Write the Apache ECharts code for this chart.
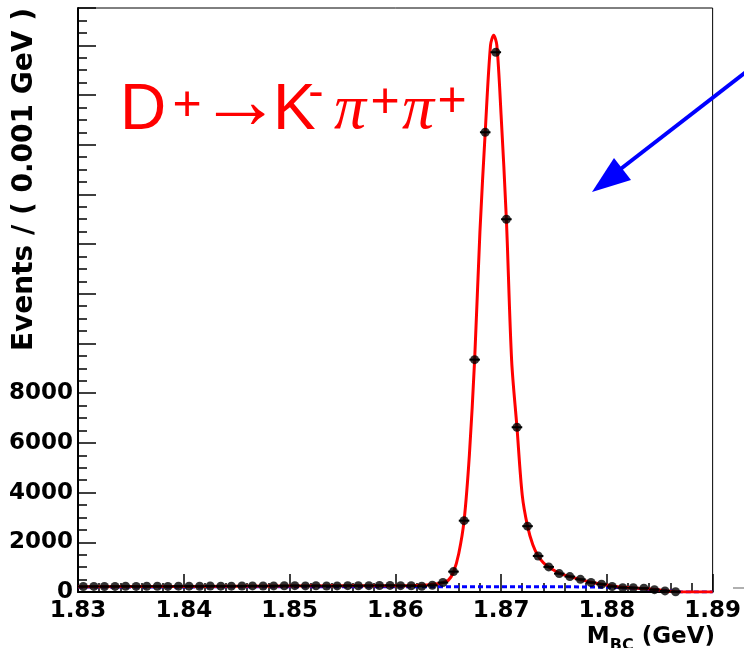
<!DOCTYPE html>
<html>
<head>
<meta charset="utf-8">
<script src="https://cdn.jsdelivr.net/npm/echarts@6/dist/echarts.min.js"></script>
<style>
  html, body { margin: 0; padding: 0; background: #fff; }
  #chart { width: 744px; height: 648px; }
</style>
</head>
<body>
<div id="chart"></div>
<script>
// bin centers (GeV) and events per 0.001 GeV
const binMass = [
  1.8305, 1.8315, 1.8325, 1.8335, 1.8345, 1.8355, 1.8365, 1.8375, 1.8385, 1.8395,
  1.8405, 1.8415, 1.8425, 1.8435, 1.8445, 1.8455, 1.8465, 1.8475, 1.8485, 1.8495,
  1.8505, 1.8515, 1.8525, 1.8535, 1.8545, 1.8555, 1.8565, 1.8575, 1.8585, 1.8595,
  1.8605, 1.8615, 1.8625, 1.8635, 1.8645, 1.8655, 1.8665, 1.8675, 1.8685, 1.8695,
  1.8705, 1.8715, 1.8725, 1.8735, 1.8745, 1.8755, 1.8765, 1.8775, 1.8785, 1.8795,
  1.8805, 1.8815, 1.8825, 1.8835, 1.8845, 1.8855, 1.8865
];
const binEvents = [
  220, 225, 220, 225, 230, 225, 230, 230, 225, 235,
  235, 230, 240, 235, 235, 240, 245, 240, 245, 250,
  255, 245, 250, 240, 245, 255, 250, 255, 260, 265,
  255, 250, 230, 270, 380, 820, 2870, 9350, 18500, 21720,
  15000, 6630, 2650, 1450, 1010, 740, 620, 510, 380, 310,
  220, 175, 170, 150, 95, 45, 10
];

// total fit (red)
const fitMass = [
  1.830, 1.840, 1.850, 1.860, 1.862, 1.863, 1.864, 1.8645, 1.865, 1.8655,
  1.866, 1.8665, 1.867, 1.8675, 1.868, 1.8685, 1.869, 1.8693, 1.8696, 1.870,
  1.8705, 1.871, 1.8715, 1.872, 1.8725, 1.873, 1.8735, 1.874, 1.8745, 1.8755,
  1.8765, 1.8775, 1.8785, 1.8795, 1.8805, 1.8815, 1.8825, 1.8835, 1.8845, 1.8855,
  1.8865, 1.887, 1.890
];
const fitEvents = [
  215, 225, 240, 255, 265, 285, 330, 380, 470, 800,
  1550, 2870, 5500, 9350, 14500, 18500, 22000, 22400, 22000, 19200,
  15000, 9300, 6630, 3900, 2650, 1900, 1450, 1180, 1010, 760,
  620, 500, 390, 310, 240, 190, 160, 140, 100, 55,
  15, 0, 0
];

// background component (blue dashed)
const bkgMass = [1.830, 1.850, 1.870, 1.878, 1.881, 1.883, 1.885, 1.886, 1.8866, 1.887, 1.890];
const bkgEvents = [200, 210, 215, 205, 180, 140, 80, 45, 10, 0, 0];

const xTicks = [1.83, 1.84, 1.85, 1.86, 1.87, 1.88, 1.89];
const yLabelMax = 8000;

const tickFont = 'DejaVu Sans';

const chart = echarts.init(document.getElementById('chart'), null, { renderer: 'canvas' });

const option = {
  animation: false,
  backgroundColor: '#fff',
  grid: {
    left: 78, right: 29, top: 8, bottom: 56,
    show: true, borderColor: '#000', borderWidth: 1, backgroundColor: 'transparent'
  },
  xAxis: {
    type: 'value',
    min: xTicks[0],
    max: xTicks[xTicks.length - 1],
    interval: 0.01,
    axisLine: { lineStyle: { color: '#000', width: 2 } },
    axisTick: { inside: true, length: 18, lineStyle: { color: '#000', width: 1.5 } },
    minorTick: { show: true, splitNumber: 5, length: 9, lineStyle: { color: '#000', width: 1.5 } },
    splitLine: { show: false },
    axisLabel: {
      color: '#000', fontFamily: tickFont, fontWeight: 'bold', fontSize: 23, margin: 8,
      formatter: (v) => v.toFixed(2)
    }
  },
  yAxis: {
    type: 'value',
    min: 0,
    max: 23500,
    interval: 2000,
    axisLine: { lineStyle: { color: '#000', width: 2 } },
    axisTick: { inside: true, length: 18, lineStyle: { color: '#000', width: 1.5 } },
    minorTick: { show: true, splitNumber: 4, length: 9, lineStyle: { color: '#000', width: 1.5 } },
    splitLine: { show: false },
    axisLabel: {
      color: '#000', fontFamily: tickFont, fontWeight: 'bold', fontSize: 23, margin: 5,
      showMaxLabel: false,
      formatter: (v) => (v <= yLabelMax ? String(v) : '')
    }
  },
  series: [
    {
      name: 'background',
      type: 'line',
      data: bkgMass.map((m, i) => [m, bkgEvents[i]]),
      showSymbol: false,
      lineStyle: { color: '#0000ff', width: 3, type: [5, 3] },
      z: 2
    },
    {
      name: 'fit',
      type: 'line',
      data: fitMass.map((m, i) => [m, fitEvents[i]]),
      showSymbol: false,
      smooth: 0.3,
      lineStyle: { color: '#ff0000', width: 3 },
      z: 3
    },
    {
      name: 'binwidth',
      type: 'custom',
      data: binMass.map((m, i) => [m, binEvents[i]]),
      renderItem: (params, api) => {
        const a = api.coord([api.value(0) - 0.0005, api.value(1)]);
        const b = api.coord([api.value(0) + 0.0005, api.value(1)]);
        return {
          type: 'line',
          shape: { x1: a[0], y1: a[1], x2: b[0], y2: b[1] },
          style: { stroke: '#000', lineWidth: 2 }
        };
      },
      z: 4
    },
    {
      name: 'data',
      type: 'scatter',
      data: binMass.map((m, i) => [m, binEvents[i]]),
      symbol: 'circle',
      symbolSize: 9,
      itemStyle: { color: '#000' },
      z: 5
    }
  ],
  graphic: [
    // y title
    {
      type: 'text', x: 25, y: 8, rotation: Math.PI / 2,
      style: {
        text: 'Events / ( 0.001 GeV )', fill: '#000',
        font: 'bold 28px "DejaVu Sans"', align: 'right', verticalAlign: 'middle'
      }
    },
    // x title
    {
      type: 'text', x: 715, y: 626,
      style: {
        text: '{m|M}{s|BC}{m| (GeV)}', align: 'right', verticalAlign: 'top',
        rich: {
          m: { fontFamily: 'DejaVu Sans', fontWeight: 'bold', fontSize: 23, lineHeight: 28, fill: '#000', verticalAlign: 'top' },
          s: { fontFamily: 'DejaVu Sans', fontWeight: 'bold', fontSize: 16, lineHeight: 12, fill: '#000', verticalAlign: 'bottom' }
        }
      }
    },
    // decay label
    { type: 'text', x: 120, y: 111, style: { text: 'D', fill: '#ff0000', font: '64px "Liberation Sans"', align: 'left', verticalAlign: 'middle' } },
    { type: 'text', x: 187, y: 106, style: { text: '+', fill: '#ff0000', font: '50px "Liberation Sans"', align: 'center', verticalAlign: 'middle' } },
    { type: 'text', x: 240, y: 105, style: { text: '→', fill: '#ff0000', font: '82px "Liberation Sans"', align: 'center', verticalAlign: 'middle' } },
    { type: 'text', x: 273, y: 111, style: { text: 'K', fill: '#ff0000', font: '64px "Liberation Sans"', align: 'left', verticalAlign: 'middle' } },
    { type: 'text', x: 316, y: 94, style: { text: '-', fill: '#ff0000', font: '46px "Liberation Sans"', align: 'center', verticalAlign: 'middle' } },
    { type: 'text', x: 350, y: 111, style: { text: 'π', fill: '#ff0000', font: 'italic 64px "Liberation Serif"', align: 'center', verticalAlign: 'middle' } },
    { type: 'text', x: 385, y: 103, style: { text: '+', fill: '#ff0000', font: '50px "Liberation Sans"', align: 'center', verticalAlign: 'middle' } },
    { type: 'text', x: 418, y: 111, style: { text: 'π', fill: '#ff0000', font: 'italic 64px "Liberation Serif"', align: 'center', verticalAlign: 'middle' } },
    { type: 'text', x: 452, y: 102, style: { text: '+', fill: '#ff0000', font: '50px "Liberation Sans"', align: 'center', verticalAlign: 'middle' } },
    // blue arrow
    { type: 'line', shape: { x1: 746, y1: 72, x2: 618, y2: 171 }, style: { stroke: '#0000ff', lineWidth: 4 } },
    { type: 'polygon', shape: { points: [[592, 192], [614, 158], [631, 180]] }, style: { fill: '#0000ff' } },
    // neighbouring frame fragment
    { type: 'line', shape: { x1: 733, y1: 588, x2: 744, y2: 588 }, style: { stroke: '#b0b0b0', lineWidth: 2 } }
  ]
};

chart.setOption(option);
</script>
</body>
</html>
